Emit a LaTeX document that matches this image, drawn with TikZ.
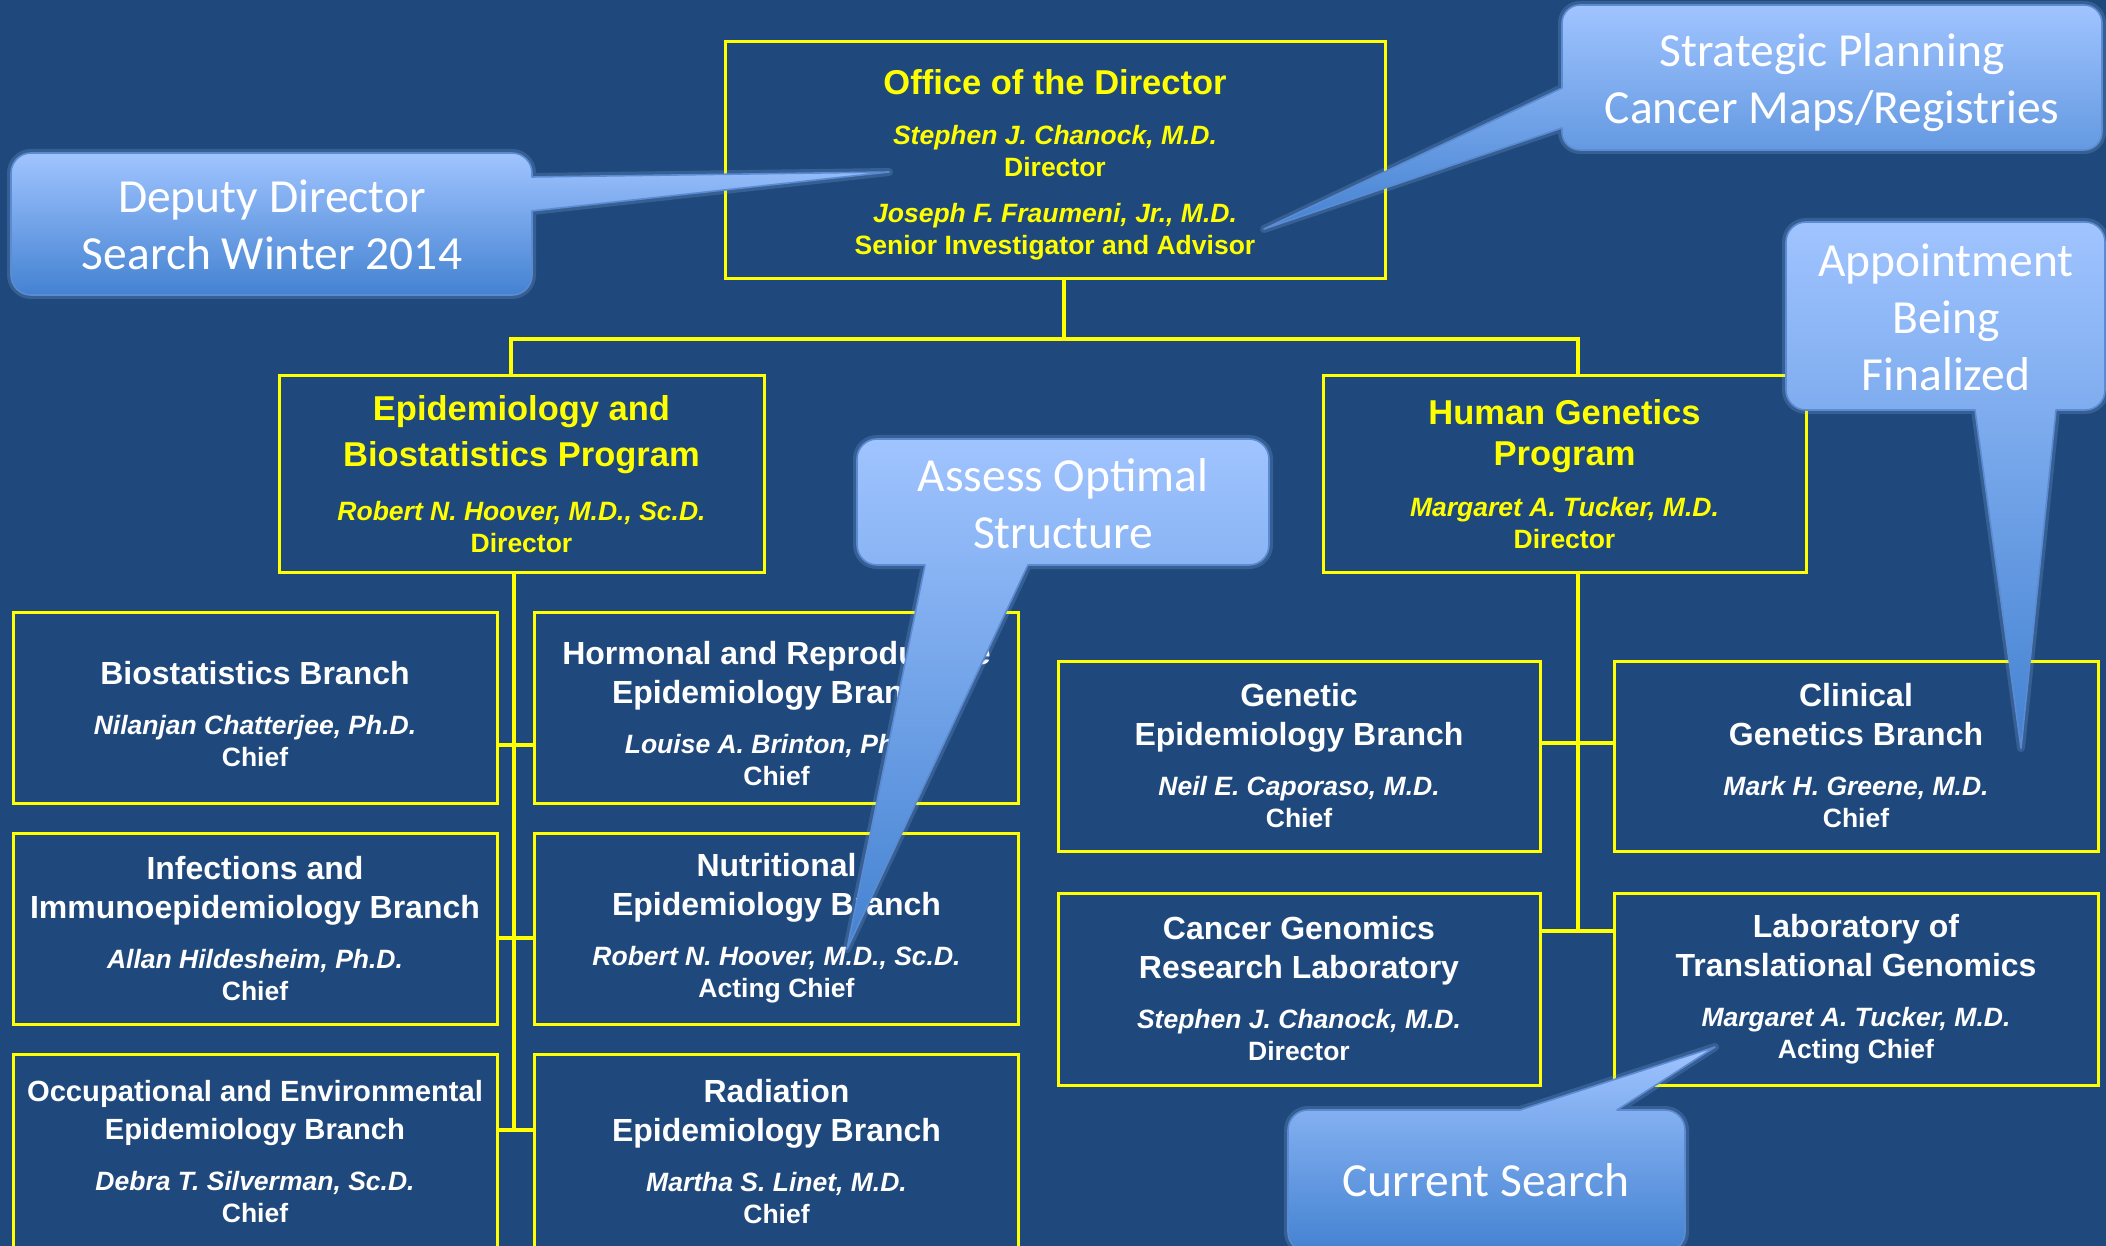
\documentclass[tikz,border=0pt]{standalone}
\usepackage{fontspec}
\setmainfont{Liberation Sans}
\newfontfamily\calfont{Carlito}
\definecolor{bg}{HTML}{1F497D}
\definecolor{cTop}{HTML}{A0C4FF}
\definecolor{cBot}{HTML}{4382D1}
\definecolor{cLine}{HTML}{5B8BD2}
\definecolor{ylw}{HTML}{FFFF00}
\newcommand\bigT{\fontsize{17.25}{16}\selectfont}
\newcommand\medT{\fontsize{16}{16}\selectfont}
\newcommand\smT{\fontsize{14.6}{16}\selectfont}
\begin{document}
\begin{tikzpicture}[x=0.5pt,y=-0.5pt,
  ybox/.style={draw=ylw, line width=1.5pt, inner sep=0pt, align=center, text=white,
    font=\fontsize{13.25}{16}\selectfont\bfseries},
  brbox/.style={ybox, minimum width=242pt, minimum height=95.5pt},
  wire/.style={draw=ylw, line width=1.8pt},
  callout/.style={top color=cTop, bottom color=cBot, draw=cLine, line width=0.8pt, line join=round,
    preaction={draw=cTop, line width=4pt, opacity=0.18, line join=round}},
  ctext/.style={text=white, align=center, inner sep=0pt,
    font=\calfont\fontsize{23.75}{28.5}\selectfont}]
\fill[bg] (0,0) rectangle (2106,1246);
\useasboundingbox (0,0) rectangle (2106,1246);

% ---------- top level ----------
\node[ybox, text=ylw, minimum width=330pt, minimum height=118.5pt, text height=96.6pt] (office) at (1055,160.5)
  {{\bigT Office of the Director}\\[9pt]{\itshape Stephen J. Chanock, M.D.}\\Director\\[7pt]{\itshape Joseph F. Fraumeni, Jr., M.D.}\\Senior Investigator and Advisor};

\node[ybox, text=ylw, minimum width=242.5pt, minimum height=98pt] (ebp) at (521.5,474)
  {{\bigT Epidemiology and}\\[5.5pt]{\bigT Biostatistics Program}\\[11pt]{\itshape Robert N. Hoover, M.D., Sc.D.}\\Director};

\node[ybox, text=ylw, minimum width=241.5pt, minimum height=98pt] (hgp) at (1564.5,474)
  {{\bigT Human Genetics}\\[4.8pt]{\bigT Program}\\[9.5pt]{\itshape Margaret A. Tucker, M.D.}\\Director};

% ---------- EBP branches ----------
\node[brbox, text height=59pt] (l1a) at (255,707.5)
  {{\medT Biostatistics Branch}\\[9pt]{\itshape Nilanjan Chatterjee, Ph.D.}\\Chief};
\node[brbox, text height=78.5pt] (l1b) at (776.5,707.5)
  {{\medT Hormonal and Reproductive}\\[3.5pt]{\medT Epidemiology Branch}\\[9pt]{\itshape Louise A. Brinton, Ph.D.}\\Chief};
\node[brbox] (l2a) at (255,928.5)
  {{\medT Infections and}\\[3.5pt]{\medT Immunoepidemiology Branch}\\[9pt]{\itshape Allan Hildesheim, Ph.D.}\\Chief};
\node[brbox] (l2b) at (776.5,928.5)
  {{\medT Nutritional}\\[3.5pt]{\medT Epidemiology Branch}\\[9pt]{\itshape Robert N. Hoover, M.D., Sc.D.}\\Acting Chief};
\node[brbox, minimum height=98pt] (l3a) at (255,1152)
  {{\smT Occupational and Environmental}\\[3pt]{\smT Epidemiology Branch}\\[9.5pt]{\itshape Debra T. Silverman, Sc.D.}\\Chief};
\node[brbox, minimum height=98pt] (l3b) at (776.5,1152)
  {{\medT Radiation}\\[3.5pt]{\medT Epidemiology Branch}\\[9pt]{\itshape Martha S. Linet, M.D.}\\Chief};

% ---------- HGP branches ----------
\node[brbox, minimum width=241pt, minimum height=95pt] (r1a) at (1299,756)
  {{\medT Genetic}\\[3.5pt]{\medT Epidemiology Branch}\\[9pt]{\itshape Neil E. Caporaso, M.D.}\\Chief};
\node[brbox, minimum height=95pt] (r1b) at (1856,756)
  {{\medT Clinical}\\[3.5pt]{\medT Genetics Branch}\\[9pt]{\itshape Mark H. Greene, M.D.}\\Chief};
\node[brbox, minimum width=241pt, minimum height=96pt] (r2a) at (1299,989)
  {{\medT Cancer Genomics}\\[3.5pt]{\medT Research Laboratory}\\[9pt]{\itshape Stephen J. Chanock, M.D.}\\Director};
\node[brbox, minimum height=96pt] (r2b) at (1856,989)
  {{\medT Laboratory of}\\[3.5pt]{\medT Translational Genomics}\\[9pt]{\itshape Margaret A. Tucker, M.D.}\\Acting Chief};

% ---------- connectors ----------
\coordinate (busM) at (1064,339);
\coordinate (busL) at (511,339);
\coordinate (busR) at (1578,339);
\draw[wire] (busM |- office.south) -- (busM);
\draw[wire] (busL |- ebp.north) -- (busL) -- (busR) -- (busR |- hgp.north);

\coordinate (t1) at (514,745);
\coordinate (t2) at (514,938);
\coordinate (t3) at (514,1130);
\draw[wire] (ebp.south -| t1) -- (t3);
\draw[wire] (l1a.east |- t1) -- (l1b.west |- t1);
\draw[wire] (l2a.east |- t2) -- (l2b.west |- t2);
\draw[wire] (l3a.east |- t3) -- (l3b.west |- t3);

\coordinate (u1) at (1578,743);
\coordinate (u2) at (1578,931);
\draw[wire] (hgp.south -| u1) -- (u2);
\draw[wire] (r1a.east |- u1) -- (r1b.west |- u1);
\draw[wire] (r2a.east |- u2) -- (r2b.west |- u2);

% ---------- callouts ----------
% Deputy Director
\path[callout] (31,153) -- (512,153) arc(-90:0:20) -- (532,177) -- (889,172) -- (532,211)
  -- (532,275) arc(0:90:20) -- (31,295) arc(90:180:20) -- (11,173) arc(180:270:20) -- cycle;
\node[ctext] (dep) at (272,225) {Deputy Director\\Search Winter 2014};

% Strategic Planning
\path[callout] (1580,5) -- (2084,5) arc(-90:0:18) -- (2102,132) arc(0:90:18)
  -- (1580,150) arc(90:180:18) -- (1562,128) -- (1264,229) -- (1562,88) -- (1562,23) arc(180:270:18) -- cycle;
\node[ctext] (stp) at (1832,83) {Strategic Planning\\Cancer Maps/Registries};

% Appointment Being Finalized
\path[callout] (1806,222) -- (2085,222) arc(-90:0:20) -- (2105,390) arc(0:90:20)
  -- (2056,410) -- (2021,748) -- (1975,410) -- (1806,410) arc(90:180:20) -- (1786,242) arc(180:270:20) -- cycle;
\node[ctext] (apb) at (1946,317) {Appointment\\Being\\Finalized};

% Assess Optimal Structure
\path[callout] (877,439) -- (1249,439) arc(-90:0:20) -- (1269,545) arc(0:90:20)
  -- (1028,565) -- (847,949) -- (925,565) -- (877,565) arc(90:180:20) -- (857,459) arc(180:270:20) -- cycle;
\node[ctext] (aos) at (1063,504) {Assess Optimal\\Structure};

% Current Search
\path[callout] (1308,1110) -- (1520,1110) -- (1715,1047) -- (1617,1110) -- (1665,1110) arc(-90:0:20)
  -- (1685,1232) arc(0:90:20) -- (1308,1252) arc(90:180:20) -- (1288,1130) arc(180:270:20) -- cycle;
\node[ctext] (cus) at (1486,1180) {Current Search};
\end{tikzpicture}
\end{document}
